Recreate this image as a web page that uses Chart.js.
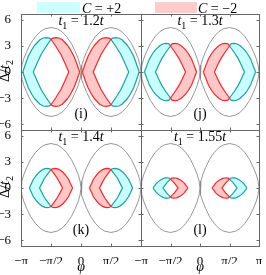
<!DOCTYPE html>
<html>
<head>
<meta charset="utf-8">
<script src="https://cdn.jsdelivr.net/npm/chart.js@4.4.1/dist/chart.umd.min.js"></script>
<style>
  html, body { margin: 0; padding: 0; background: #fff; }
  #wrap { position: relative; width: 266px; height: 275px; }
  #wrap canvas { position: absolute; left: 0; top: 0; }
</style>
</head>
<body>
<div id="wrap">
  <canvas id="p0" width="266" height="275"></canvas>
  <canvas id="p1" width="266" height="275"></canvas>
  <canvas id="p2" width="266" height="275"></canvas>
  <canvas id="p3" width="266" height="275"></canvas>
</div>
<script>
const PI = Math.PI;

const t1Values = ['1.2', '1.3', '1.4', '1.55'];
const panelTags = ['(i)', '(j)', '(k)', '(l)'];
const legendLabels = ['+2', '−2'];

const xTickValues = [-PI, -PI / 2, 0, PI / 2, PI];
const xTickLabels = ['−π', '−π/2', '0', 'π/2', 'π'];
const yTickValues = [-6, -3, 0, 3, 6];
const yTickLabels = ['−6', '−3', '0', '3', '6'];

// dotted boundary, upper half of the left lobe (same in every panel)
const boundPhi = [-3.142, -3.092, -2.992, -2.842, -2.642, -2.392, -2.142, -1.892, -1.571,
                  -1.25, -1.0, -0.75, -0.5, -0.3, -0.15, -0.05, 0];
const boundDelta = [0, 0.8, 1.55, 2.35, 3.25, 4.05, 4.62, 4.95, 5.1,
                    4.95, 4.62, 4.05, 3.25, 2.35, 1.55, 0.8, 0];

// C=+2 region, upper edge of the left lobe: outer edge up to the tip, then inner edge down
const cyanPhi = [
  [-3.05, -2.90, -2.76, -2.58, -2.41, -2.15, -1.98, -1.80, -1.66, -1.57, -1.82, -2.09, -2.30, -2.50],
  [-2.96, -2.82, -2.69, -2.52, -2.36, -2.11, -1.95, -1.79, -1.65, -1.57, -1.79, -2.02, -2.20, -2.37],
  [-2.70, -2.59, -2.48, -2.34, -2.21, -2.01, -1.88, -1.75, -1.64, -1.57, -1.73, -1.91, -2.04, -2.17],
  [-2.50, -2.41, -2.32, -2.20, -2.10, -1.94, -1.83, -1.71, -1.63, -1.57, -1.68, -1.79, -1.88, -1.97]
];
const cyanDelta = [
  [0, 0.95, 1.80, 2.55, 3.10, 3.70, 3.90, 3.95, 3.88, 3.75, 2.95, 2.00, 1.00, 0],
  [0, 0.79, 1.50, 2.12, 2.57, 3.07, 3.24, 3.28, 3.22, 2.98, 2.35, 1.59, 0.80, 0],
  [0, 0.54, 1.03, 1.45, 1.77, 2.11, 2.22, 2.25, 2.21, 2.10, 1.65, 1.12, 0.56, 0],
  [0, 0.28, 0.53, 0.76, 0.92, 1.10, 1.15, 1.17, 1.12, 1.00, 0.79, 0.53, 0.27, 0]
];

// C=-2 region, upper edge of the left lobe
const redPhi = [
  [-0.07, -0.22, -0.37, -0.55, -0.72, -0.98, -1.15, -1.33, -1.47, -1.57, -1.32, -1.05, -0.84, -0.64],
  [-0.18, -0.32, -0.45, -0.62, -0.78, -1.03, -1.19, -1.35, -1.49, -1.57, -1.36, -1.13, -0.94, -0.77],
  [-0.44, -0.56, -0.66, -0.80, -0.93, -1.13, -1.26, -1.40, -1.50, -1.57, -1.41, -1.24, -1.10, -0.97],
  [-0.64, -0.74, -0.82, -0.94, -1.04, -1.21, -1.31, -1.43, -1.52, -1.57, -1.46, -1.35, -1.26, -1.17]
];
const redDelta = cyanDelta.map(r => r.slice());

const panels = [
  { left: 21, top: 14, right: 141, bottom: 130, xLabels: false, yLabels: true, lastX: false },
  { left: 141, top: 14, right: 259, bottom: 130, xLabels: false, yLabels: false, lastX: true },
  { left: 21, top: 130, right: 141, bottom: 246, xLabels: true, yLabels: true, lastX: false },
  { left: 141, top: 130, right: 259, bottom: 246, xLabels: true, yLabels: false, lastX: true }
];
const Y_AXIS_W = 21, X_AXIS_H = 18;

const FONT = '"Liberation Serif", "Times New Roman", serif';
const CYAN_FILL = '#c8ffff', CYAN_LINE = '#17a2a2';
const RED_FILL = '#ffc8c8', RED_LINE = '#ff2424';

// closed outline from an upper edge; mirror gives the right lobe
function closedShape(phi, delta, mirror) {
  const s = mirror ? -1 : 1;
  const up = phi.map((p, i) => ({ x: s * p, y: delta[i] }));
  const down = up.slice(1, -1).reverse().map(p => ({ x: p.x, y: -p.y }));
  return up.concat(down, [up[0]]);
}

function fontFor(part, size) {
  return (part.i ? 'italic ' : '') + (part.sub ? Math.round(size * 0.7) : size) + 'px ' + FONT;
}

function drawRich(ctx, parts, x, y, size, align) {
  ctx.textAlign = 'left';
  ctx.textBaseline = 'alphabetic';
  const widths = parts.map(p => { ctx.font = fontFor(p, size); return ctx.measureText(p.t).width; });
  const total = widths.reduce((a, b) => a + b, 0);
  let cx = align === 'center' ? x - total / 2 : x;
  parts.forEach((p, k) => {
    ctx.font = fontFor(p, size);
    ctx.fillText(p.t, cx, y + (p.sub ? size * 0.28 : 0));
    cx += widths[k];
  });
}

const panelPlugin = {
  id: 'panelDecor',
  afterDatasetsDraw(chart) {
    const ctx = chart.ctx;
    const a = chart.chartArea;
    const xs = chart.scales.x, ys = chart.scales.y;
    const n = chart.options.panelIndex;
    ctx.save();
    // box and inward ticks
    ctx.strokeStyle = '#666';
    ctx.lineWidth = 1;
    ctx.strokeRect(Math.round(a.left) + 0.5, Math.round(a.top) + 0.5,
                   Math.round(a.right - a.left), Math.round(a.bottom - a.top));
    ctx.beginPath();
    xTickValues.forEach(v => {
      const px = Math.round(xs.getPixelForValue(v)) + 0.5;
      ctx.moveTo(px, a.bottom); ctx.lineTo(px, a.bottom - 2.5);
      ctx.moveTo(px, a.top); ctx.lineTo(px, a.top + 2.5);
    });
    yTickValues.forEach(v => {
      const py = Math.round(ys.getPixelForValue(v)) + 0.5;
      ctx.moveTo(a.left, py); ctx.lineTo(a.left + 2.5, py);
      ctx.moveTo(a.right, py); ctx.lineTo(a.right - 2.5, py);
    });
    ctx.stroke();

    ctx.fillStyle = '#000';
    const cx = xs.getPixelForValue(0);
    drawRich(ctx, [{ t: 't', i: true }, { t: '1', sub: true }, { t: ' = ' + t1Values[n] }, { t: 't', i: true }],
             cx, a.top + 11, 14, 'center');
    ctx.font = '14px ' + FONT;
    ctx.textAlign = 'center';
    ctx.textBaseline = 'middle';
    ctx.fillText(panelTags[n], cx, ys.getPixelForValue(-4.9));

    if (panels[n].yLabels) {
      ctx.save();
      ctx.translate(5, (a.top + a.bottom) / 2 - 1);
      ctx.rotate(-PI / 2);
      drawRich(ctx, [{ t: 'Δ/' }, { t: 't', i: true }, { t: '2', sub: true }], 0, 4, 14, 'center');
      ctx.restore();
    }
    if (panels[n].xLabels) {
      ctx.font = 'italic 14px ' + FONT;
      ctx.textAlign = 'center';
      ctx.textBaseline = 'middle';
      ctx.fillText('φ', cx, 267);
    }
    if (n === 0) {
      ctx.fillStyle = '#ccffff';
      ctx.fillRect(37, 2, 43, 11);
      ctx.fillStyle = '#ffcccc';
      ctx.fillRect(155, 2, 42, 11);
      ctx.fillStyle = '#000';
      drawRich(ctx, [{ t: 'C', i: true }, { t: ' = ' + legendLabels[0] }], 82, 13, 14, 'left');
      drawRich(ctx, [{ t: 'C', i: true }, { t: ' = ' + legendLabels[1] }], 198, 13, 14, 'left');
    }
    ctx.restore();
  }
};

panels.forEach((p, n) => {
  const region = (phi, delta, mirror, fillC, lineC) => ({
    data: closedShape(phi[n], delta[n], mirror),
    showLine: true, fill: 'shape', backgroundColor: fillC,
    borderColor: lineC, borderWidth: 1.2, pointRadius: 0, tension: 0
  });
  const bound = mirror => ({
    data: closedShape(boundPhi, boundDelta, mirror),
    showLine: true, fill: false, borderColor: '#8a8a8a', borderWidth: 0.9,
    pointRadius: 0, tension: 0
  });
  const yW = p.yLabels ? Y_AXIS_W : 0;
  const xH = p.xLabels ? X_AXIS_H : 0;
  new Chart(document.getElementById('p' + n), {
    type: 'scatter',
    data: {
      datasets: [
        region(redPhi, redDelta, false, RED_FILL, RED_LINE),
        region(redPhi, redDelta, true, RED_FILL, RED_LINE),
        region(cyanPhi, cyanDelta, false, CYAN_FILL, CYAN_LINE),
        region(cyanPhi, cyanDelta, true, CYAN_FILL, CYAN_LINE),
        bound(false),
        bound(true)
      ]
    },
    options: {
      panelIndex: n,
      responsive: false,
      animation: false,
      devicePixelRatio: 1,
      events: [],
      layout: { padding: { left: p.left - yW, top: p.top, right: 266 - p.right, bottom: 275 - p.bottom - xH } },
      plugins: { legend: { display: false }, tooltip: { enabled: false } },
      scales: {
        x: {
          type: 'linear', min: -PI, max: PI,
          afterBuildTicks: s => { s.ticks = xTickValues.map(v => ({ value: v })); },
          afterFit: s => { s.height = xH; },
          grid: { display: false },
          border: { display: false },
          ticks: {
            display: p.xLabels, autoSkip: false, maxRotation: 0, minRotation: 0, padding: 0, color: '#000',
            font: { family: FONT, size: 13 },
            callback: (v, i) => (i === xTickLabels.length - 1 && !p.lastX) ? '' : xTickLabels[i]
          }
        },
        y: {
          type: 'linear', min: -6.65, max: 6.65,
          afterBuildTicks: s => { s.ticks = yTickValues.map(v => ({ value: v })); },
          afterFit: s => { s.width = yW; },
          grid: { display: false },
          border: { display: false },
          ticks: {
            display: p.yLabels, autoSkip: false, padding: 2, color: '#000',
            font: { family: FONT, size: 13 },
            callback: (v, i) => yTickLabels[i]
          }
        }
      }
    },
    plugins: [panelPlugin]
  });
});
</script>
</body>
</html>
